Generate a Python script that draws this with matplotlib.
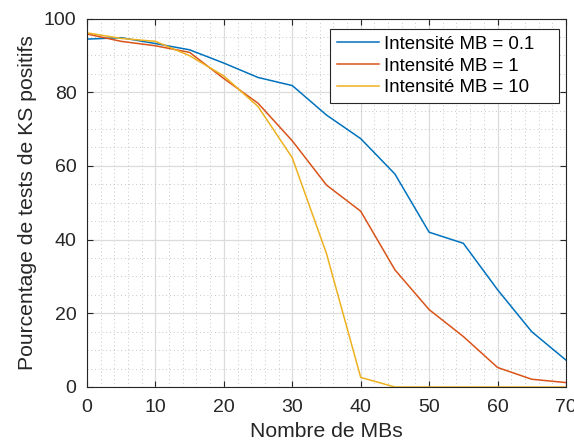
import numpy as np
import matplotlib.pyplot as plt
from matplotlib.ticker import MultipleLocator

plt.rcParams['font.family'] = ['Liberation Sans', 'DejaVu Sans']

# nombre de MBs
x = [0, 5, 10, 15, 20, 25, 30, 35, 40, 45, 50, 55, 60, 65, 70]
# pourcentage de tests KS positifs
y01 = [94.4, 94.8, 93.2, 91.5, 87.9, 84.0, 81.8, 73.8, 67.4, 57.8, 42.0, 39.0, 26.4, 15.0, 7.3]
y1 = [95.8, 93.8, 92.6, 90.8, 83.7, 77.0, 66.8, 54.8, 47.7, 31.8, 21.0, 13.7, 5.3, 2.1, 1.2]
y10 = [96.1, 94.6, 93.8, 89.9, 84.4, 76.1, 62.2, 36.2, 2.6, 0.0, 0.0, 0.0, 0.0, 0.0, 0.0]
labels = ['Intensité MB = 0.1', 'Intensité MB = 1', 'Intensité MB = 10']

fig = plt.figure(figsize=(5.74, 4.46), dpi=100)
ax = fig.add_axes([0.1516, 0.1323, 0.8344, 0.8262])

ax.plot(x, y01, color='#0072BD', lw=1.1, label=labels[0])
ax.plot(x, y1, color='#D95319', lw=1.1, label=labels[1])
ax.plot(x, y10, color='#EDB120', lw=1.1, label=labels[2])

ax.set_xlim(0, 70)
ax.set_ylim(0, 100)
ax.xaxis.set_major_locator(MultipleLocator(10))
ax.yaxis.set_major_locator(MultipleLocator(20))
ax.xaxis.set_minor_locator(MultipleLocator(2))
ax.yaxis.set_minor_locator(MultipleLocator(5))

# grille style matlab
ax.grid(True, which='major', color='#dcdcdc', lw=0.9, ls='-')
ax.grid(True, which='minor', color='#b4b4b4', lw=0.6, ls=(0, (1, 3.5)))
ax.set_axisbelow(True)

ax.tick_params(which='major', direction='in', length=4, width=0.8, top=True, right=True,
               labelsize=14, colors='#262626')
ax.tick_params(axis='x', which='major', pad=9)
ax.tick_params(axis='y', which='major', pad=7.5)
ax.tick_params(which='minor', length=0, top=True, right=True)
for s in ax.spines.values():
    s.set_color('#262626')
    s.set_linewidth(0.8)

ax.set_xlabel('Nombre de MBs', fontsize=15.2, color='#262626', labelpad=4)
ax.set_ylabel('Pourcentage de tests de KS positifs', fontsize=15.2, color='#262626', labelpad=5)

# legende plus large (style matlab)
leg = ax.legend(loc='upper right', bbox_to_anchor=(0.5073, 0.7, 0.4781, 0.2707),
                mode='expand', borderaxespad=0,
                fontsize=13.4, fancybox=False, framealpha=1, edgecolor='#262626',
                handlelength=2.3, handletextpad=0.25, labelspacing=0.25, borderpad=0.35)
leg.get_frame().set_linewidth(0.8)

plt.savefig('out.png', dpi=100)
